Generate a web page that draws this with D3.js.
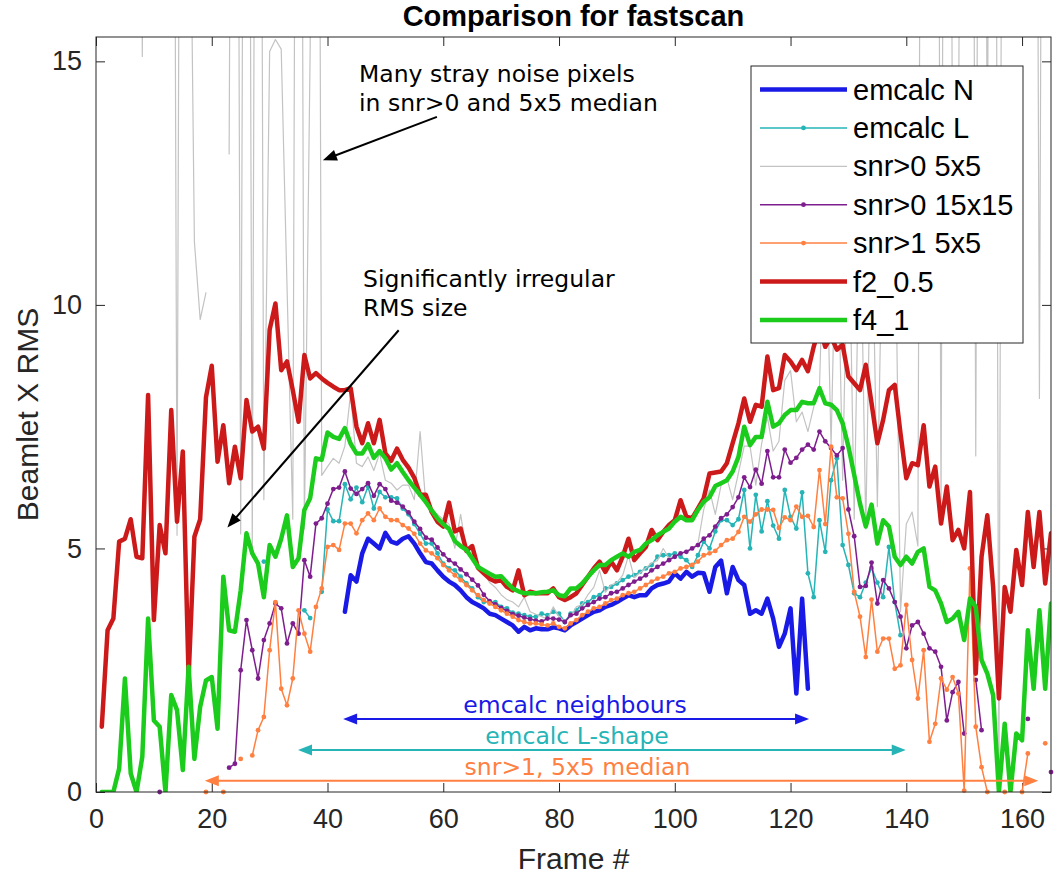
<!DOCTYPE html>
<html><head><meta charset="utf-8">
<script src="https://cdn.jsdelivr.net/npm/d3@7"></script>
<style>body{margin:0;background:#fff}</style>
</head><body><svg id="c" width="1063" height="879"></svg>
<script>
const N = null;
const xTicks = [0, 20, 40, 60, 80, 100, 120, 140, 160];
const yTicks = [0, 5, 10, 15];
const seriesNames = ["emcalc N", "emcalc L", "snr>0 5x5", "snr>0 15x15", "snr>1 5x5", "f2_0.5", "f4_1"];

// values per frame, frames 1..165
const emcalcN = [
  N,N,N,N,N,N,N,N,N,N, N,N,N,N,N,N,N,N,N,N, N,N,N,N,N,N,N,N,N,N, N,N,N,N,N,N,N,N,N,N,
  N,N,3.7,4.45,4.32,4.9,5.2,5.1,5.0,5.32,
  5.14,5.1,5.2,5.25,5.1,4.9,4.72,4.69,4.55,4.42,
  4.32,4.25,4.14,4.0,3.9,3.84,3.77,3.66,3.63,3.56,
  3.49,3.42,3.29,3.39,3.32,3.36,3.34,3.34,3.38,3.36,
  3.32,3.42,3.49,3.56,3.63,3.7,3.73,3.8,3.84,3.9,
  3.97,4.04,4.0,4.04,4.04,4.18,4.25,4.28,4.32,4.49,
  4.38,4.52,4.42,4.5,4.49,4.11,4.62,4.75,4.08,4.62,
  4.35,4.25,3.66,3.73,3.66,3.97,3.56,2.98,3.25,3.77,
  2.02,3.97,2.12,N,N,N,N,N,N,N,
  N,N,N,N,N,N,N,N,N,N, N,N,N,N,N,N,N,N,N,N, N,N,N,N,N,N,N,N,N,N, N,N,N,N,N
];
const emcalcL = [
  N,N,N,N,N,N,N,N,N,N, N,N,N,N,N,N,N,N,N,N,
  N,N,N,N,N,N,N,N,4.73,N,
  N,N,N,N,N,3.73,3.57,N,4.11,5.8,
  5.56,5.56,6.32,6.01,6.25,5.95,6.27,5.82,6.16,6.05,
  6.05,6.03,5.82,5.7,5.5,5.3,5.1,5.1,4.9,4.69,
  4.59,4.55,4.42,4.28,4.18,4.0,3.9,3.9,3.9,3.8,
  3.77,3.68,3.66,3.63,3.6,3.6,3.66,3.63,3.7,3.66,
  3.49,3.66,3.73,3.87,3.9,4.0,4.04,4.18,4.21,4.28,
  4.35,4.42,4.45,4.52,4.59,4.66,4.83,4.86,4.86,4.9,
  4.83,4.76,4.62,4.86,5.14,5.0,5.35,5.58,5.58,5.48,
  5.6,6.2,5.0,6.1,5.35,5.97,5.47,5.2,6.2,5.65,
  5.41,6.15,4.49,4.0,5.58,4.93,6.4,6.85,5.07,4.66,
  4.08,4.0,4.3,4.6,4.3,4.0,5.03,3.9,3.22,N,
  N,N,N,N,N,N,N,N,N,N, N,N,N,N,N,N,N,N,N,N, N,N,N,N,N
];
const snr0s5 = [
  N,N,N,N,N,N,40,15.1,40,40,
  40,40,40,5.27,40,22,11.3,9.7,10.25,N,
  N,N,13.1,40,5.3,40,5.0,40,6.0,15.2,
  15.45,15.25,10.4,5.6,40,5.4,15.24,40,6.5,6.68,
  6.85,6.75,7.1,8.2,6.75,6.68,6.88,6.6,6.95,6.4,
  6.34,6.2,6.3,6.3,6.0,7.4,5.9,5.8,5.7,5.6,
  5.5,5.0,5.7,4.95,5.05,4.6,4.5,4.3,4.2,4.05,
  3.95,3.9,3.8,4.0,3.7,3.65,3.6,3.55,3.8,3.6,
  3.5,3.6,3.8,3.85,4.05,4.2,4.55,4.1,4.25,4.3,
  4.45,4.85,4.4,4.5,4.6,4.7,4.75,5.0,4.8,4.85,
  4.9,4.95,5.0,5.1,5.8,6.2,5.7,6.3,6.45,6.0,
  6.55,7.1,7.1,6.3,7.15,7.7,7.0,7.2,8.45,8.65,
  7.6,7.8,7.4,7.9,8.3,12.5,7.1,12.5,6.4,12.5,
  5.6,12.5,5.4,12.5,5.86,12.5,12.5,12.5,3.7,5.5,
  5.75,5.05,40,40,40,5.86,40,12.5,12.5,40,
  40,6.9,40,12.5,40,0.1,40,40,40,40,
  40,40,8.08,40,40
];
const snr0s15 = [
  N,N,N,N,N,N,N,N,N,N,
  0,N,N,N,N,N,N,N,N,N,
  N,N,0.5,0.58,2.5,3.53,2.91,2.33,3.12,3.46,
  3.87,3.77,3.05,3.46,3.25,4.76,4.42,5.51,5.62,5.92,
  6.22,6.25,6.58,6.23,6.12,6.22,6.34,6.08,6.32,6.22,
  5.98,5.94,5.86,5.74,5.55,5.4,5.22,5.18,5.02,4.88,
  4.76,4.69,4.57,4.47,4.36,4.24,4.05,3.92,3.85,3.78,
  3.72,3.65,3.62,3.58,3.55,3.52,3.5,3.56,3.56,3.54,
  3.49,3.63,3.66,3.77,3.84,3.9,3.97,4.0,4.08,4.11,
  4.18,4.25,4.32,4.38,4.45,4.55,4.62,4.69,4.76,4.83,
  4.9,4.93,5.0,5.07,5.2,5.27,5.45,5.62,5.7,5.85,
  6.05,6.46,6.26,6.62,6.33,7.0,6.46,6.46,7.03,6.76,
  6.86,7.03,7.13,7.03,7.4,7.2,7.06,6.91,7.06,5.8,
  5.25,4.21,4.23,4.71,3.87,4.35,4.18,3.9,3.6,2.95,
  3.42,3.49,3.25,2.95,2.88,2.57,1.47,2.05,2.26,1.2,
  N,2.3,1.27,N,N,N,N,N,N,N,
  1.5,N,N,N,0.41
];
const snr1s5 = [
  N,N,N,N,N,N,N,N,N,N,
  N,N,N,N,N,N,N,N,0,N,
  N,0,N,N,0.68,N,0.75,1.27,1.54,2.91,
  3.9,2.12,1.78,2.33,3.73,3.25,2.88,3.8,4.18,5.03,
  5.07,4.97,5.51,5.51,5.31,5.58,5.72,5.58,5.82,5.65,
  5.58,5.58,5.48,5.41,5.3,5.1,4.96,4.9,4.8,4.66,
  4.55,4.45,4.35,4.25,4.14,4.04,3.94,3.87,3.8,3.73,
  3.66,3.6,3.53,3.49,3.46,3.46,3.44,3.42,3.46,3.39,
  3.36,3.46,3.53,3.63,3.7,3.77,3.8,3.87,3.94,3.97,
  4.04,4.08,4.11,4.18,4.25,4.32,4.38,4.42,4.49,4.52,
  4.59,4.62,4.66,4.73,4.86,4.9,4.95,5.07,5.17,5.2,
  5.34,5.65,5.55,5.7,5.8,5.8,5.79,5.42,5.64,5.58,
  5.86,5.65,5.67,5.44,6.61,5.5,7.09,6.05,6.03,5.3,
  4.11,3.6,2.77,3.95,2.88,3.15,3.15,2.53,2.6,3.84,
  2.71,1.92,2.91,1.03,1.4,2.33,2.1,2.36,2.02,0.03,
  4.59,1.34,0.51,0,N,N,0,N,N,0,
  0.79,N,N,1.0,N
];
const f2 = [
  1.34,3.32,3.56,5.14,5.2,5.6,4.83,4.8,8.15,3.53,
  5.48,4.9,7.84,5.55,6.99,2.36,5.24,5.6,8.1,8.75,
  6.78,7.53,6.34,7.09,6.44,8.05,7.4,7.5,7.05,9.49,
  10.03,8.66,8.84,8.25,7.6,8.97,8.49,8.6,8.49,8.4,
  8.32,8.25,8.25,8.29,7.5,7.16,7.57,7.16,7.64,6.95,
  6.8,7.05,6.82,6.66,6.45,6.1,6.1,5.75,5.55,5.45,
  5.94,5.35,5.41,4.95,5.05,4.6,4.49,4.38,4.32,4.35,
  4.21,4.14,4.55,4.04,4.11,4.08,4.08,4.08,4.18,4.0,
  3.94,4.0,4.08,4.25,4.42,4.59,4.73,4.52,4.73,4.55,
  4.83,5.2,4.76,4.9,5.03,5.38,5.17,5.34,5.48,5.58,
  5.99,5.65,5.62,5.82,6.03,6.54,6.56,6.58,6.75,7.16,
  7.57,8.08,7.6,7.95,7.91,8.94,8.25,8.29,8.97,8.84,
  8.66,8.87,8.64,9.14,9.55,9.14,9.35,9.08,9.18,8.53,
  8.39,8.25,8.77,7.98,7.16,7.64,8.25,8.36,7.36,6.44,
  6.75,6.71,7.53,6.27,6.68,5.51,6.27,5.17,5.38,5.0,
  6.16,2.43,4.83,5.68,4.21,1.92,4.21,3.7,4.97,4.25,
  5.75,4.62,5.75,4.28,5.31
];
const f4 = [
  0,0,0,0.48,2.33,0.38,0,0.72,3.56,1.47,
  1.34,0,1.99,1.68,0.45,2.57,0.68,1.75,2.29,2.36,
  1.3,4.42,3.32,3.29,4.14,5.31,4.9,4.69,4.0,5.07,
  4.83,5.2,5.68,4.62,4.8,5.79,6.03,6.85,6.82,7.38,
  7.29,7.25,7.47,7.15,6.95,6.95,7.14,6.86,7.0,6.85,
  6.62,6.75,6.57,6.4,6.25,6.1,5.95,5.78,5.62,5.5,
  5.4,5.15,5.05,4.97,4.8,4.62,4.55,4.48,4.42,4.43,
  4.3,4.18,4.12,4.08,4.08,4.08,4.1,4.11,4.14,4.04,
  4.02,4.18,4.18,4.28,4.42,4.55,4.66,4.66,4.76,4.83,
  4.9,4.83,4.93,4.97,5.1,5.17,5.27,5.34,5.41,5.55,
  5.65,5.58,5.58,5.79,5.96,6.05,6.28,6.34,6.4,6.58,
  6.88,7.5,7.12,7.29,7.29,8.01,7.5,7.57,7.74,7.84,
  7.84,8.01,7.98,7.98,8.29,7.98,7.95,7.84,7.57,7.09,
  6.51,5.92,5.45,5.9,5.1,5.58,5.45,4.83,4.66,4.83,
  4.69,4.93,5.0,4.21,4.14,3.87,3.49,3.56,3.7,3.12,
  3.97,3.8,2.71,2.43,1.99,0,1.4,0,1.2,1.06,
  3.32,2.12,3.73,2.12,3.87
];

const colors = ["#1a1ae6", "#26b4b6", "#c3c3c3", "#7e1e8e", "#ff8040", "#cc1a1a", "#1ccc1c"];
const widths = [4.5, 1.5, 1.2, 1.5, 1.5, 4.5, 4.5];
const markerR = [0, 2.4, 0, 2.4, 2.4, 0, 0];
const allSeries = [emcalcN, emcalcL, snr0s5, snr0s15, snr1s5, f2, f4];

const W = 1063, H = 879;
const P = {left: 96, top: 37, right: 1051, bottom: 792};
const x = d3.scaleLinear().domain([0, 165]).range([P.left, P.right]);
const y = d3.scaleLinear().domain([0, 15.5]).range([P.bottom, P.top]);
const AX = "#262626";
const FONT = "'Liberation Sans', Arial, Helvetica, sans-serif";
const AFONT = "'DejaVu Sans', Verdana, sans-serif";

const svg = d3.select("#c");
svg.append("rect").attr("width", W).attr("height", H).attr("fill", "#fff");
svg.append("defs").append("clipPath").attr("id", "clip")
  .append("rect").attr("x", P.left).attr("y", P.top)
  .attr("width", P.right - P.left).attr("height", P.bottom - P.top);

// axes
function styleAxis(g, labels) {
  g.select(".domain").remove();
  g.selectAll("line").attr("stroke", AX).attr("stroke-width", 1);
  g.selectAll("text").attr("fill", AX).style("font-family", FONT).style("font-size", "27px");
  if (!labels) g.selectAll("text").remove();
}
svg.append("g").attr("transform", `translate(0,${P.bottom})`)
  .call(d3.axisBottom(x).tickValues(xTicks).tickSize(-9).tickPadding(17).tickFormat(d3.format("d")))
  .call(g => styleAxis(g, true));
svg.append("g").attr("transform", `translate(0,${P.top})`)
  .call(d3.axisTop(x).tickValues(xTicks).tickSize(-9))
  .call(g => styleAxis(g, false));
svg.append("g").attr("transform", `translate(${P.left},0)`)
  .call(d3.axisLeft(y).tickValues(yTicks).tickSize(-9).tickPadding(14).tickFormat(d3.format("d")))
  .call(g => styleAxis(g, true));
svg.append("g").attr("transform", `translate(${P.right},0)`)
  .call(d3.axisRight(y).tickValues(yTicks).tickSize(-9))
  .call(g => styleAxis(g, false));

// data
const dataG = svg.append("g");
allSeries.forEach((vals, k) => {
  const pts = vals.map((v, i) => ({f: i + 1, v: v}));
  const line = d3.line().defined(d => d.v !== null).x(d => x(d.f)).y(d => y(d.v));
  dataG.append("path").datum(pts).attr("clip-path", "url(#clip)")
    .attr("d", line).attr("fill", "none").attr("stroke", colors[k])
    .attr("stroke-width", widths[k]).attr("stroke-linejoin", "round").attr("stroke-linecap", "round");
  if (markerR[k] > 0) {
    dataG.append("g").selectAll("circle")
      .data(pts.filter(d => d.v !== null && d.v <= 15.5))
      .join("circle").attr("cx", d => x(d.f)).attr("cy", d => y(d.v))
      .attr("r", markerR[k]).attr("fill", colors[k]);
  }
});

// box
svg.append("rect").attr("x", P.left).attr("y", P.top)
  .attr("width", P.right - P.left).attr("height", P.bottom - P.top)
  .attr("fill", "none").attr("stroke", AX).attr("stroke-width", 1);

// labels
svg.append("text").attr("x", (P.left + P.right) / 2).attr("y", 26).attr("text-anchor", "middle")
  .style("font-family", FONT).style("font-size", "29px").style("font-weight", "bold").attr("fill", "#000")
  .text("Comparison for fastscan");
svg.append("text").attr("x", (P.left + P.right) / 2).attr("y", 869).attr("text-anchor", "middle")
  .style("font-family", FONT).style("font-size", "30px").attr("fill", AX).text("Frame #");
svg.append("text").attr("transform", `translate(38,${(P.top + P.bottom) / 2}) rotate(-90)`)
  .attr("text-anchor", "middle")
  .style("font-family", FONT).style("font-size", "30px").attr("fill", AX).text("Beamlet X RMS");

// legend
const lg = svg.append("g");
lg.append("rect").attr("x", 751).attr("y", 66).attr("width", 272).attr("height", 277)
  .attr("fill", "#fff").attr("stroke", AX).attr("stroke-width", 1);
seriesNames.forEach((nm, k) => {
  const yy = 89.5 + k * 38.4;
  lg.append("line").attr("x1", 760).attr("x2", 847).attr("y1", yy).attr("y2", yy)
    .attr("stroke", colors[k]).attr("stroke-width", widths[k]);
  if (markerR[k] > 0) lg.append("circle").attr("cx", 803.5).attr("cy", yy).attr("r", markerR[k]).attr("fill", colors[k]);
  lg.append("text").attr("x", 853).attr("y", yy).attr("dy", "0.35em")
    .style("font-family", FONT).style("font-size", "29px").attr("fill", "#000").text(nm);
});

// annotations
const ann = svg.append("g");
function arrowHead(x1, y1, x2, y2, len, half, color) {
  const a = Math.atan2(y2 - y1, x2 - x1);
  const bx = x2 - len * Math.cos(a), by = y2 - len * Math.sin(a);
  const px = -Math.sin(a) * half, py = Math.cos(a) * half;
  ann.append("polygon").attr("points", `${x2},${y2} ${bx + px},${by + py} ${bx - px},${by - py}`).attr("fill", color);
}
function arrow(f1, v1, f2_, v2, color, both) {
  const X1 = x(f1), Y1 = y(v1), X2 = x(f2_), Y2 = y(v2);
  const a = Math.atan2(Y2 - Y1, X2 - X1), len = 13;
  ann.append("line")
    .attr("x1", both ? X1 + len * 0.8 * Math.cos(a) : X1).attr("y1", both ? Y1 + len * 0.8 * Math.sin(a) : Y1)
    .attr("x2", X2 - len * 0.8 * Math.cos(a)).attr("y2", Y2 - len * 0.8 * Math.sin(a))
    .attr("stroke", color).attr("stroke-width", 2);
  arrowHead(X1, Y1, X2, Y2, 14, 5.5, color);
  if (both) arrowHead(X2, Y2, X1, Y1, 14, 5.5, color);
}
// single arrows (data units)
arrow(58.9, 13.86, 39.2, 12.97, "#000", false);
arrow(52.3, 9.48, 22.7, 5.43, "#000", false);
// range arrows
arrow(42.7, 1.5, 123.2, 1.5, colors[0], true);
arrow(34.9, 0.86, 139.9, 0.86, colors[1], true);
arrow(18.8, 0.23, 162.8, 0.23, colors[4], true);

function annText(lines, px, py, color, anchor) {
  lines.forEach((t, i) => {
    ann.append("text").attr("x", px).attr("y", py + i * 28.5).attr("text-anchor", anchor || "start")
      .style("font-family", AFONT).style("font-size", "23.5px").attr("fill", color).text(t);
  });
}
annText(["Many stray noise pixels", "in snr>0 and 5x5 median"], 359, 82, "#000");
annText(["Significantly irregular", "RMS size"], 363, 287, "#000");
annText(["emcalc neighbours"], 575, 713, colors[0], "middle");
annText(["emcalc L-shape"], 577, 744, colors[1], "middle");
annText(["snr>1, 5x5 median"], 577.5, 775, colors[4], "middle");
</script></body></html>
